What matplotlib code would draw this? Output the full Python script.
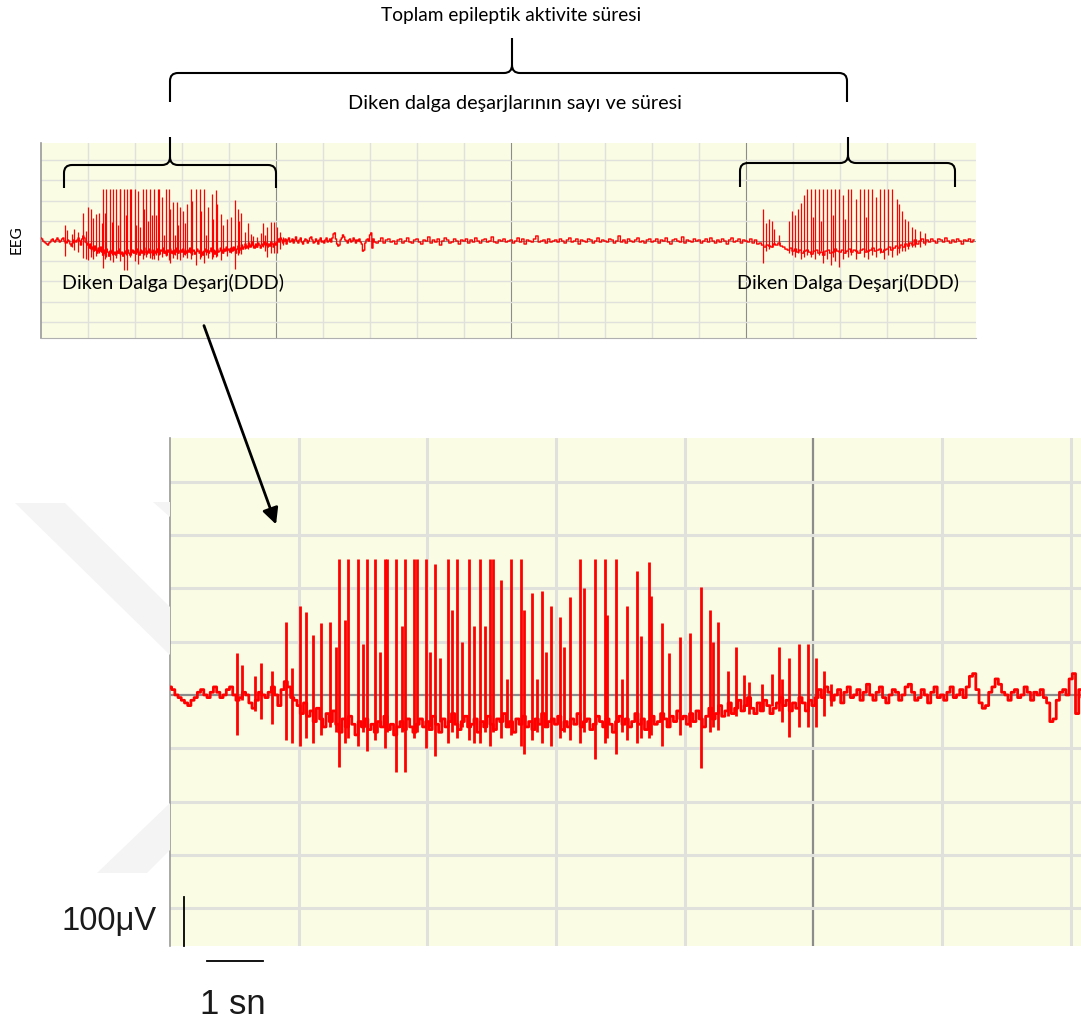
import matplotlib
matplotlib.use("Agg")
import matplotlib.pyplot as plt
import numpy as np
from matplotlib.path import Path
from matplotlib.patches import PathPatch, Polygon, FancyArrowPatch
from matplotlib.lines import Line2D

# --- EEG data (grid units: x = 1 grid box, y = 1 grid box) ---
# fine baseline for the enlarged window, one sample every 0.025 box, hundredths of a box
fine_step = 0.025
base_fine = [
    15, 10, 0, -5, -10, -15, -20, -10, -5, 5, 10, 0, -5, 5, 15, 5, -5, 0, 10, 15,
    0, -10, -5, 5, 0, -15, -25, -10, 5, 0, -5, 5, 15, 0, -20, 10, 25, 15, -5, -10,
    -20, -35, -15, -40, -30, -50, -25, -45, -60, -35, -50, -30, -55, -70, -45, -60, -40, -55, -75, -50,
    -60, -45, -65, -55, -70, -50, -60, -40, -65, -55, -75, -60, -50, -65, -45, -60, -70, -55, -45, -60,
    -50, -65, -40, -55, -70, -45, -60, -50, -35, -55, -65, -50, -40, -60, -55, -45, -70, -50, -60, -40,
    -55, -65, -45, -50, -35, -60, -50, -70, -45, -55, -40, -60, -50, -65, -45, -55, -35, -60, -50, -45,
    -55, -40, -65, -50, -60, -45, -55, -35, -60, -50, -45, -65, -55, -40, -50, -60, -45, -55, -70, -50,
    -40, -55, -45, -60, -50, -35, -55, -45, -65, -50, -40, -55, -50, -35, -45, -60, -40, -50, -30, -45,
    -40, -55, -35, -50, -30, -45, -60, -40, -25, -45, -35, -20, -40, -30, -15, -35, -25, -10, -30, -20,
    -5, -25, -35, -15, -30, -10, -20, -35, -25, -15, -5, -20, -10, -30, -15, -25, -5, -15, -30, -10,
    -20, -5, 10, -5, 15, 5, -10, 0, 10, -15, 5, 15, -5, 0, 10, -10, 5, 20, 0, -10,
    5, 15, -5, -15, 0, 10, 5, -10, 0, 15, 20, 5, -10, -5, 10, 0, -15, 5, 15, -5,
    0, -10, 5, 15, -5, 0, 10, -5, 15, 35, 40, 10, -15, -25, -20, 5, 15, 30, 20, 5,
    0, -10, 5, 10, -5, 0, 15, 5, -10, 5, 0, 10, -5, -15, -50, -45, -10, 5, 10, 0,
    30, 40, -35, 10,
]
# coarser baseline for the rest of the overview, from 7.1 boxes, one sample every 0.05 box
rest_start = 7.1
rest_step = 0.05
base_rest = [
    -5, -10, 0, 15, -10, 5, 10, -5, 0, -15, 5, 10, -10, 0, 15, -5, -10, 5,
    10, -5, -15, 5, 0, 20, -10, 5, -5, 10, -20, 0, 15, 5, -10, -5, 10, 0, -15, 5,
    0, 10, -10, 5, -5, 15, 0, -10, 5, 10, -5, 0, 20, -5, -10, 5, 0, 10, -5, 0,
    5, -10, 0, 15, -5, 10, -15, 5, 0, -5, 10, 25, -5, 0, 5, -10, 10, -5, 0, 5,
    -5, 10, 0, -10, 5, 15, -5, 0, 10, -15, 5, 0, -5, 10, 5, -10, 0, 15, -5, 5,
    0, -5, 10, 5, -10, 0, 25, -5, 5, -10, 10, 0, -5, 5, 15, -5, 0, -10, 5, 10,
    -5, 0, 10, -10, 5, 0, 15, -5, -15, 5, 10, 0, -5, 20, -10, 5, 0, -5, 10, 0,
    5, -10, 0, 10, -5, 15, 0, -10, 5, -5, 10, 0, -15, 5, 15, -5, 0, 10, -10, 5,
    0, -5, 10, -10, 5, -15, -10, -20, -30, -20, -25, -30, -15, -20, -10, -25, -30, -40, -45, -35,
    -50, -40, -55, -45, -60, -50, -45, -55, -65, -50, -45, -60, -55, -70, -50, -45, -60, -55, -40, -50,
    -55, -45, -60, -50, -40, -55, -45, -50, -60, -45, -40, -55, -50, -45, -35, -50, -45, -40, -55, -45,
    -40, -30, -45, -35, -25, -35, -20, -30, -15, -25, -10, -20, 5, -15, 0, 10, -10, 5, -5, 10,
    0, -10, 10, 5, -5, 15, 0, -10, 5, -5, 10, 0, -15, 5, 0, 10, -5, 5,
]

# first spike-wave discharge (also shown enlarged below)
spike_t_a = [0.52, 0.56, 0.66, 0.71, 0.79, 0.90, 0.95, 1.01, 1.06, 1.11, 1.17, 1.24, 1.29,
             1.31, 1.36, 1.38, 1.46, 1.50, 1.53, 1.59, 1.63, 1.67, 1.69, 1.76, 1.80, 1.83,
             1.90, 1.92, 1.99, 2.02, 2.06, 2.10, 2.16, 2.19, 2.23, 2.27, 2.32, 2.36, 2.41,
             2.45, 2.49, 2.51, 2.57, 2.62, 2.65, 2.73, 2.75, 2.81, 2.85, 2.89, 2.92, 2.96,
             3.03, 3.06, 3.11, 3.19, 3.22, 3.30, 3.38, 3.40, 3.47, 3.51, 3.55, 3.63, 3.66,
             3.72, 3.74, 3.82, 3.88, 3.96, 4.04, 4.13, 4.20, 4.22, 4.26, 4.34, 4.40, 4.46,
             4.50, 4.60, 4.68, 4.73, 4.76, 4.81, 4.89, 4.96, 5.02, 5.08, 5.14]
spike_hi_a = [0.79, 0.56, 0.35, 0.60, 0.45, 1.37, 0.50, 1.66, 1.56, 1.13, 1.35, 1.37, 0.90,
              2.55, 1.40, 2.55, 2.55, 0.95, 2.55, 2.55, 0.80, 2.55, 2.55, 2.55, 1.30, 2.55,
              2.55, 2.55, 2.55, 0.80, 2.45, 0.70, 2.55, 1.60, 2.55, 1.00, 2.55, 1.30, 2.55,
              1.30, 2.55, 2.55, 2.16, 0.30, 2.55, 2.55, 1.60, 1.91, 0.30, 1.95, 0.80, 1.66,
              1.47, 0.90, 1.84, 2.55, 2.00, 2.55, 2.55, 1.50, 2.55, 0.30, 1.66, 2.33, 1.10,
              2.50, 1.85, 1.35, 0.79, 1.09, 1.17, 2.03, 1.60, 1.00, 1.37, 0.44, 0.90, 0.37,
              0.25, 0.20, 0.40, 0.90, 0.30, 0.69, 0.96, 0.96, 0.69, 0.44, 0.20]
spike_lo_a = [-0.75, -0.10, -0.30, -0.45, -0.55, -0.85, -0.90, -0.95, -0.80, -0.90, -0.75, -0.60, -0.70,
              -1.35, -0.90, -0.80, -0.95, -0.70, -1.05, -0.85, -0.60, -1.00, -0.70, -1.45, -0.70, -1.45,
              -0.80, -0.70, -1.00, -0.60, -1.15, -0.50, -0.90, -0.70, -0.80, -0.60, -0.85, -0.90, -0.90,
              -0.70, -0.95, -0.70, -0.80, -0.60, -0.75, -0.95, -1.10, -0.85, -0.70, -0.90, -0.60, -0.95,
              -0.80, -0.70, -0.85, -0.90, -0.70, -1.20, -0.90, -0.80, -1.10, -0.70, -0.85, -0.90, -0.80,
              -0.80, -0.75, -0.95, -0.60, -0.75, -0.60, -1.37, -0.70, -0.60, -0.65, -0.40, -0.40, -0.30,
              -0.35, -0.30, -0.20, -0.30, -0.50, -0.79, -0.60, -0.60, -0.60, -0.40, -0.20]

# second discharge (upper trace only)
spike_t_b = [15.36, 15.42, 15.48, 15.54, 15.60, 15.70, 15.92, 15.98, 16.04, 16.10, 16.17, 16.24,
             16.30, 16.38, 16.42, 16.46, 16.55, 16.59, 16.64, 16.72, 16.81, 16.85, 16.90, 16.98,
             17.07, 17.11, 17.16, 17.24, 17.33, 17.42, 17.50, 17.54, 17.59, 17.68, 17.76, 17.85,
             17.94, 18.02, 18.11, 18.20, 18.26, 18.32, 18.38, 18.44, 18.52, 18.60, 18.70, 18.80]
spike_hi_b = [1.57, 0.90, 1.10, 1.00, 0.60, 0.30, 1.00, 1.50, 1.30, 1.60, 1.90, 2.30,
              2.55, 2.55, 1.20, 2.55, 2.55, 1.00, 2.55, 2.55, 2.55, 1.30, 2.55, 2.55,
              2.30, 1.10, 2.55, 2.55, 2.10, 2.55, 2.55, 1.20, 2.55, 2.55, 2.20, 2.55,
              2.55, 2.55, 2.55, 2.10, 1.85, 1.50, 1.10, 1.00, 0.70, 0.60, 0.50, 0.40]
spike_lo_b = [-1.09, -0.50, -0.40, -0.30, -0.20, -0.20, -0.60, -0.70, -0.80, -0.60, -0.90, -0.80,
              -0.70, -0.80, -0.60, -0.90, -0.70, -0.50, -1.10, -0.90, -1.20, -0.80, -1.00, -1.30,
              -0.90, -0.60, -0.80, -0.70, -0.90, -0.60, -0.80, -0.50, -0.90, -0.70, -0.80, -0.60,
              -0.90, -0.70, -0.80, -0.70, -0.60, -0.50, -0.50, -0.40, -0.30, -0.30, -0.30, -0.20]

W, H = 1081, 1030
RED = "#ff0000"
BG = "#fafce4"


def P(x, y):
    # pixel position (y down) -> figure fraction
    return x / W, 1 - y / H


def axes_px(left, top, right, bottom):
    return [left / W, 1 - bottom / H, (right - left) / W, (bottom - top) / H]


base_t = np.concatenate([np.arange(len(base_fine)) * fine_step,
                         rest_start + np.arange(len(base_rest)) * rest_step])
base_y = np.array(base_fine + base_rest) / 100.0

fig = plt.figure(figsize=(W / 100, H / 100), dpi=100)

# faint watermark shapes on the left
wm = "#f4f4f4"
for pts in ([(15, 503), (65, 503), (170, 607), (170, 655)],
            [(153, 502), (170, 502), (170, 517)],
            [(97, 873), (147, 873), (170, 850), (170, 803)]):
    fig.patches.append(Polygon([P(*p) for p in pts], closed=True, transform=fig.transFigure,
                               facecolor=wm, edgecolor="none", zorder=0))


def style_axes(ax, xmax, ymin, ymax, minor_lw, major_lw):
    ax.set_facecolor(BG)
    ax.set_xlim(0, xmax)
    ax.set_ylim(ymin, ymax)
    ax.set_xticks([])
    ax.set_yticks([])
    for k in range(1, int(xmax) + 1):
        if k % 5 == 0:
            ax.axvline(k, color="#8c8c8c", lw=major_lw, zorder=1)
        else:
            ax.axvline(k, color="#e0e0dc", lw=minor_lw, zorder=1)
    for k in range(int(np.ceil(ymin)), int(ymax) + 1):
        if k == 0:
            ax.axhline(k, color="#8c8c8c", lw=major_lw, zorder=1)
        else:
            ax.axhline(k, color="#e0e0dc", lw=minor_lw, zorder=1)
    for s in ax.spines.values():
        s.set_visible(False)
    ax.spines["left"].set_visible(True)
    ax.spines["left"].set_color("#9a9a9a")
    ax.spines["left"].set_linewidth(1.2)


# upper overview trace
ax1 = fig.add_axes(axes_px(41, 143, 976, 338))
style_axes(ax1, 19.89, -4.8, 4.85, 1.0, 0.8)
ax1.spines["bottom"].set_visible(True)
ax1.spines["bottom"].set_color("#b0b0b0")
ax1.step(base_t, base_y, where="mid", color=RED, lw=1.0, zorder=3)
ax1.vlines(spike_t_a, spike_lo_a, spike_hi_a, color=RED, lw=0.9, zorder=3)
ax1.vlines(spike_t_b, spike_lo_b, spike_hi_b, color=RED, lw=0.9, zorder=3)

# lower enlarged trace
ax2 = fig.add_axes(axes_px(170, 438, 1081, 946))
style_axes(ax2, 7.08, -4.71, 4.82, 2.2, 1.6)
ax2.step(base_t, base_y, where="mid", color=RED, lw=2.0, zorder=3)
ax2.vlines(spike_t_a, spike_lo_a, spike_hi_a, color=RED, lw=2.0, zorder=3)


# braces
def brace(x0, x1, tip, y_line, y_end, y_top, r=8):
    verts = [P(x0, y_end), P(x0, y_line + r), P(x0, y_line), P(x0 + r, y_line),
             P(tip - r, y_line), P(tip, y_line), P(tip, y_line - r), P(tip, y_top),
             P(tip, y_line - r), P(tip, y_line), P(tip + r, y_line),
             P(x1 - r, y_line), P(x1, y_line), P(x1, y_line + r), P(x1, y_end)]
    codes = [Path.MOVETO, Path.LINETO, Path.CURVE3, Path.CURVE3,
             Path.LINETO, Path.CURVE3, Path.CURVE3, Path.LINETO,
             Path.MOVETO, Path.CURVE3, Path.CURVE3,
             Path.LINETO, Path.CURVE3, Path.CURVE3, Path.LINETO]
    fig.patches.append(PathPatch(Path(verts, codes), transform=fig.transFigure,
                                 facecolor="none", edgecolor="black", lw=1.5, zorder=5))


brace(170, 847, 512, 73, 102, 38)
brace(64, 276, 170, 165, 188, 137)
brace(740, 955, 848, 163, 187, 137)

font = "Lato"
fig.text(*P(511, 16), "Toplam epileptik aktivite süresi", ha="center", va="center",
         fontsize=13.8, family=font)
fig.text(*P(515, 103), "Diken dalga deşarjlarının sayı ve süresi", ha="center", va="center",
         fontsize=14.3, family=font)
fig.text(*P(62, 283), "Diken Dalga Deşarj(DDD)", ha="left", va="center",
         fontsize=14.2, family=font)
fig.text(*P(737, 283), "Diken Dalga Deşarj(DDD)", ha="left", va="center",
         fontsize=14.2, family=font)
fig.text(*P(17, 240), "EEG", ha="center", va="center", rotation=90,
         fontsize=11, family=font)

# arrow from overview to enlargement
fig.patches.append(FancyArrowPatch(P(203, 323), P(277, 527), transform=fig.transFigure,
                                   arrowstyle="-|>", mutation_scale=24, lw=2,
                                   color="black", zorder=6))

# scale bars
fig.lines.append(Line2D([P(184, 897)[0], P(184, 946)[0]], [P(184, 897)[1], P(184, 946)[1]],
                        transform=fig.transFigure, color="black", lw=1.3, zorder=6))
fig.lines.append(Line2D([P(207, 961)[0], P(263, 961)[0]], [P(207, 961)[1], P(263, 961)[1]],
                        transform=fig.transFigure, color="black", lw=1.3, zorder=6))
fig.text(*P(157, 921), "100μV", ha="right", va="center", fontsize=23.5,
         family="Liberation Sans", color="#1a1a1a")
fig.text(*P(233, 1005), "1 sn", ha="center", va="center", fontsize=25,
         family="Liberation Sans", color="#1a1a1a")

fig.savefig("out.png", dpi=100, facecolor="white")
